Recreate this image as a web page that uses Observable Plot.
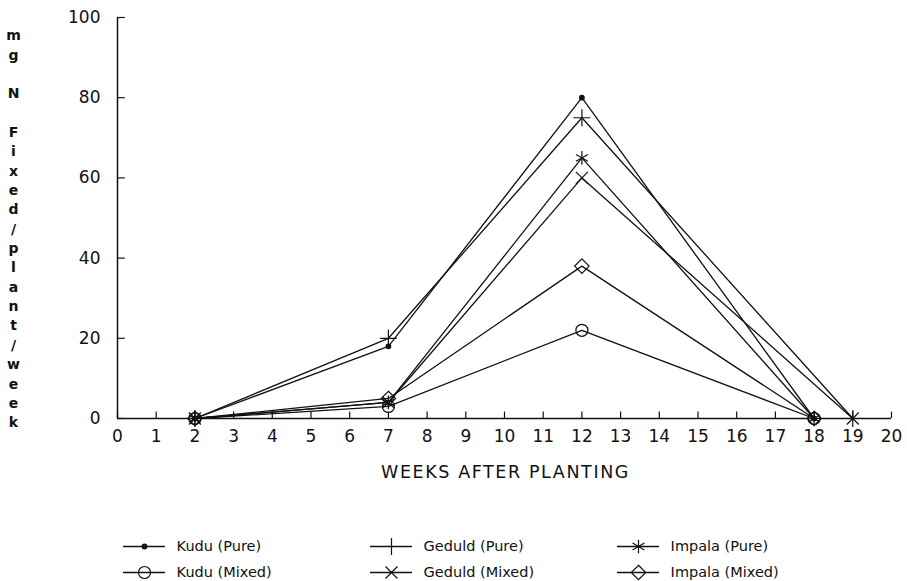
<!DOCTYPE html>
<html>
<head>
<meta charset="utf-8">
<script src="https://cdn.jsdelivr.net/npm/d3@7"></script>
<script src="https://cdn.jsdelivr.net/npm/@observablehq/plot@0.6"></script>
<style>
  html, body { margin: 0; padding: 0; background: #fff; }
  #chart svg { display: block; }
</style>
</head>
<body>
<div id="chart"></div>
<script>
// ---- data ----
const seriesNames = ["Kudu (Pure)", "Geduld (Pure)", "Impala (Pure)", "Kudu (Mixed)", "Geduld (Mixed)", "Impala (Mixed)"];
const weeksKuduImpala = [2, 7, 12, 18];
const weeksGeduld = [2, 7, 12, 19];
const kuduPure = [0, 18, 80, 0];
const geduldPure = [0, 20, 75, 0];
const impalaPure = [0, 4, 65, 0];
const kuduMixed = [0, 3, 22, 0];
const geduldMixed = [0, 4, 60, 0];
const impalaMixed = [0, 5, 38, 0];
const xTicks = d3.range(0, 21);
const yTicks = [0, 20, 40, 60, 80, 100];
const xLabel = "WEEKS AFTER PLANTING";
const yLabel = "mg N Fixed/plant/week";
const legendCols = [0, 1, 2, 0, 1, 2];
const legendRows = [0, 0, 0, 1, 1, 1];

// ---- build table ----
const seriesWeeks = [weeksKuduImpala, weeksGeduld, weeksKuduImpala, weeksKuduImpala, weeksGeduld, weeksKuduImpala];
const seriesValues = [kuduPure, geduldPure, impalaPure, kuduMixed, geduldMixed, impalaMixed];
const rows = seriesNames.flatMap((name, k) =>
  seriesWeeks[k].map((w, i) => ({series: name, week: w, value: seriesValues[k][i]})));
const legendItems = seriesNames.map((name, k) => ({name, col: legendCols[k], row: legendRows[k]}));

// ---- styles ----
const ink = "#111";
const markerStyle = {
  "Kudu (Pure)":    {symbol: "circle", r: 2.3, fill: ink},
  "Geduld (Pure)":  {symbol: "plus", r: 5.5, fill: "none"},
  "Impala (Pure)":  {symbol: "asterisk", r: 6.5, fill: "none"},
  "Kudu (Mixed)":   {symbol: "circle", r: 6, fill: "none"},
  "Geduld (Mixed)": {symbol: "times", r: 5.5, fill: "none"},
  "Impala (Mixed)": {symbol: "diamond2", r: 6.5, fill: "none"}
};
const font = "'DejaVu Sans', sans-serif";

// vertical stacked y label
const stacked = "m\ng\n\nN\n\nF\ni\nx\ne\nd\n/\np\nl\na\nn\nt\n/\nw\ne\ne\nk";

const dotMarks = seriesNames.map(name => {
  const st = markerStyle[name];
  return Plot.dot(rows.filter(d => d.series === name), {
    x: "week", y: "value", symbol: st.symbol, r: st.r,
    fill: st.fill, stroke: ink, strokeWidth: 1.2
  });
});

const main = Plot.plot({
  width: 907, height: 500,
  marginTop: 17, marginLeft: 117, marginRight: 16, marginBottom: 82,
  x: {domain: [0, 20]},
  y: {domain: [0, 100]},
  style: {fontFamily: font, fontSize: "18px", color: ink, background: "#fff", overflow: "visible"},
  marks: [
    Plot.ruleX([0], {stroke: ink, strokeWidth: 1.5}),
    Plot.ruleY([0], {stroke: ink, strokeWidth: 1.5}),
    Plot.ruleX(xTicks, {x: d => d, y1: 0, y2: 1.6, stroke: ink, strokeWidth: 1.2}),
    Plot.ruleY(yTicks, {y: d => d, x1: 0, x2: 0.2, stroke: ink, strokeWidth: 1.2}),
    Plot.axisX({ticks: xTicks, tickSize: 0, tickPadding: 11, label: null, tickFormat: d => String(d), fontSize: 17}),
    Plot.axisY({ticks: yTicks, tickSize: 0, tickPadding: 17, label: null, tickFormat: d => String(d), fontSize: 17}),
    Plot.text([xLabel], {frameAnchor: "bottom", dx: 1, dy: 59, text: d => d, fontSize: 17.5, fill: ink}),
    Plot.text([stacked], {frameAnchor: "top-left", dx: -104, dy: 9, text: d => d, textAnchor: "middle",
      lineAnchor: "top", fontSize: 14, fontWeight: 600, lineHeight: 1.382, fill: ink, title: () => yLabel}),
    Plot.line(rows, {x: "week", y: "value", z: "series", stroke: ink, strokeWidth: 1.3}),
    ...dotMarks
  ]
});

// widen the axis title's letter spacing like the plotter lettering
for (const t of main.querySelectorAll("text")) {
  if (t.textContent === xLabel) t.setAttribute("letter-spacing", "1.6px");
}

const legendDots = seriesNames.map(name => {
  const st = markerStyle[name];
  return Plot.dot(legendItems.filter(d => d.name === name), {
    x: d => d.col + 0.085, y: "row", symbol: st.symbol, r: st.r,
    fill: st.fill, stroke: ink, strokeWidth: 1.2
  });
});

const legend = Plot.plot({
  width: 907, height: 81,
  margin: 0,
  x: {domain: [0, 3], range: [123, 864], axis: null},
  y: {domain: [0, 1], range: [46, 72], axis: null},
  style: {fontFamily: font, fontSize: "14.5px", color: ink, background: "#fff", overflow: "visible"},
  marks: [
    Plot.ruleY(legendItems, {y: "row", x1: "col", x2: d => d.col + 0.17, stroke: ink, strokeWidth: 1.3}),
    ...legendDots,
    Plot.text(legendItems, {x: d => d.col + 0.215, y: "row", text: "name", textAnchor: "start", fontSize: 14.5, fill: ink})
  ]
});

const el = document.getElementById("chart");
el.append(main, legend);
</script>
</body>
</html>
